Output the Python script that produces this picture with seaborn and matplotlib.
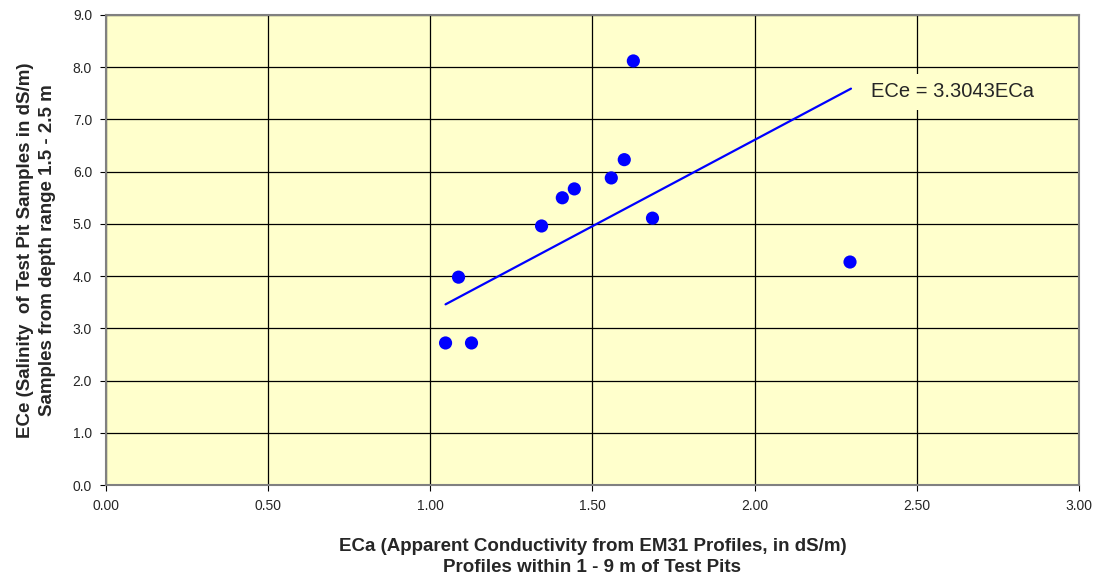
import numpy as np
import pandas as pd
import matplotlib
matplotlib.use('Agg')
import matplotlib.pyplot as plt
import seaborn as sns

# valores
eca = [1.047, 1.127, 1.087, 1.343, 1.407, 1.444, 1.558, 1.598, 1.626, 1.685, 2.294]
ece = [2.72, 2.72, 3.98, 4.96, 5.50, 5.67, 5.88, 6.23, 8.12, 5.11, 4.27]
slope = 3.3043
trend_x = [1.047, 2.297]
x_ticks = [0.0, 0.5, 1.0, 1.5, 2.0, 2.5, 3.0]
y_ticks = [0, 1, 2, 3, 4, 5, 6, 7, 8, 9]

df = pd.DataFrame({'ECa': eca, 'ECe': ece})

sns.set_theme(style="white")
plt.rcParams['font.family'] = ['Liberation Sans', 'DejaVu Sans']

fig = plt.figure(figsize=(10.98, 5.81), dpi=100)
ax = fig.add_axes([0.0965, 0.1652, 0.8862, 0.809])
ax.set_facecolor('#FFFFCC')

# linha de tendencia
ax.plot(trend_x, [slope * v for v in trend_x], color='#0000FF', lw=1.6, zorder=3)
sns.scatterplot(data=df, x='ECa', y='ECe', ax=ax, color='#0000FF', s=90,
                edgecolor='none', zorder=4, legend=False)

ax.set_xlim(0, 3)
ax.set_ylim(0, 9)
ax.set_xticks(x_ticks)
ax.set_yticks(y_ticks)
ax.set_xticklabels(['%.2f' % v for v in x_ticks], fontsize=10)
ax.set_yticklabels(['%.1f' % v for v in y_ticks], fontsize=10)
ax.grid(True, color='black', lw=0.9)
ax.set_axisbelow(True)
for s in ax.spines.values():
    s.set_color('#808080')
    s.set_linewidth(1.5)
ax.tick_params(axis='both', direction='out', length=4, width=0.8, color='black',
               bottom=True, left=True, pad=6)

ax.text(2.36, 7.53, 'ECe = 3.3043ECa', fontsize=14.5, va='center', ha='left',
        bbox=dict(facecolor='#FFFFCC', edgecolor='none', pad=6), zorder=5)

ax.set_xlabel('ECa (Apparent Conductivity from EM31 Profiles, in dS/m)\nProfiles within 1 - 9 m of Test Pits',
              fontsize=13.5, fontweight='bold', labelpad=18, linespacing=1.35)
ax.set_ylabel('ECe (Salinity  of Test Pit Samples in dS/m)\nSamples from depth range 1.5 - 2.5 m',
              fontsize=13.5, fontweight='bold', labelpad=12, linespacing=1.35)

plt.savefig('out.png', dpi=100)
